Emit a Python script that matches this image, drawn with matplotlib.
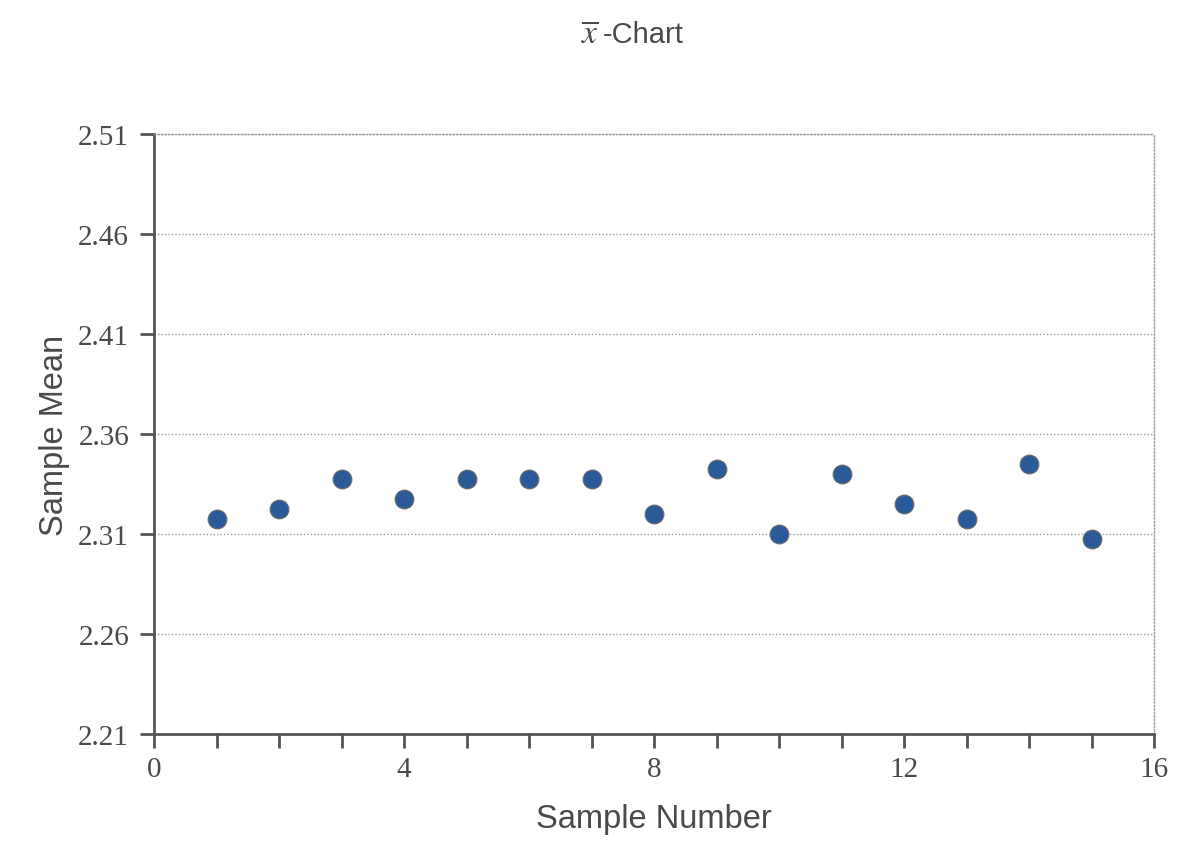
import matplotlib
matplotlib.use("Agg")
import matplotlib.pyplot as plt
from matplotlib.ticker import MultipleLocator

plt.rcParams["mathtext.fontset"] = "stix"

sample_number = [1, 2, 3, 4, 5, 6, 7, 8, 9, 10, 11, 12, 13, 14, 15]
sample_mean = [2.3175, 2.3225, 2.3375, 2.3275, 2.3375, 2.3375, 2.3375,
               2.3200, 2.3425, 2.3100, 2.3400, 2.3250, 2.3175, 2.3450, 2.3075]
y_ticks = [2.21, 2.26, 2.31, 2.36, 2.41, 2.46, 2.51]
x_ticks = [0, 4, 8, 12, 16]

text_col = "#4a4a4a"
axis_col = "#555555"
grid_col = "#9a9a9a"

fig = plt.figure(figsize=(11.94, 8.62), dpi=100)
ax = fig.add_axes([154/1194, 1-735/862, 1000/1194, 600/862])

ax.set_xlim(0, 16)
ax.set_ylim(2.21, 2.51)
ax.set_xticks(x_ticks)
ax.xaxis.set_minor_locator(MultipleLocator(1))
ax.set_yticks(y_ticks)
ax.set_yticklabels([f"{v:.2f}" for v in y_ticks])

for sp in ["left", "bottom"]:
    ax.spines[sp].set_color(axis_col)
    ax.spines[sp].set_linewidth(2)
for sp in ["top", "right"]:
    ax.spines[sp].set_color(grid_col)
    ax.spines[sp].set_linewidth(1)
    ax.spines[sp].set_linestyle((0, (1, 1.5)))

ax.yaxis.grid(True, color=grid_col, linewidth=1, linestyle=(0, (1, 1.5)))
ax.set_axisbelow(True)

ax.tick_params(axis="both", which="both", direction="out", length=10,
               width=2, color=axis_col, labelcolor=text_col)
ax.tick_params(axis="y", which="major", labelsize=21, pad=8)
ax.tick_params(axis="x", which="major", labelsize=21, pad=6)
for lab in ax.get_xticklabels() + ax.get_yticklabels():
    lab.set_fontfamily("Liberation Serif")

ax.plot(sample_number, sample_mean, linestyle="none", marker="o",
        markersize=13.5, markerfacecolor="#2a5a97", markeredgecolor="#6b6b6b",
        markeredgewidth=0.8, clip_on=False, zorder=3)

ax.set_xlabel("Sample Number", fontsize=23.5, color=text_col,
              fontfamily="Liberation Sans", labelpad=15)
ax.set_ylabel("Sample Mean", fontsize=23.5, color=text_col,
              fontfamily="Liberation Sans", labelpad=6)

fig.text(599/1194, 1-43/862, r"$\overline{x}$", fontsize=24,
         color=text_col, ha="right", va="baseline")
fig.text(603/1194, 1-43/862, "-Chart", fontsize=21,
         color=text_col, ha="left", va="baseline", fontfamily="Liberation Sans")

fig.savefig("out.png", dpi=100)
